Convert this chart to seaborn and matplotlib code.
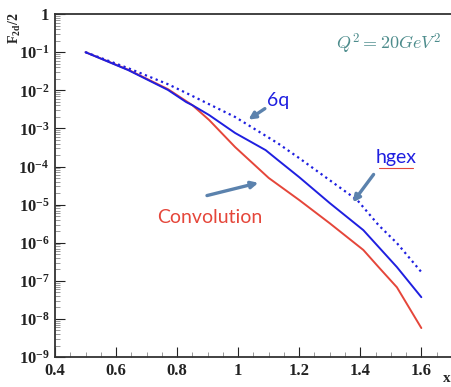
import numpy as np
import pandas as pd
import seaborn as sns
import matplotlib
matplotlib.use("Agg")
import matplotlib.pyplot as plt
from matplotlib.ticker import FixedLocator, MultipleLocator, LogLocator, NullFormatter

sns.set_style("ticks")
plt.rcParams['font.family'] = ['Liberation Serif', 'DejaVu Serif']
plt.rcParams['mathtext.fontset'] = 'custom'
plt.rcParams['mathtext.rm'] = 'Liberation Serif'
plt.rcParams['mathtext.it'] = 'Liberation Serif:italic'
plt.rcParams['mathtext.bf'] = 'Liberation Serif:bold'

# ---- data (log10 of F2d/2) ----
x_6q = [0.5, 0.64, 0.77, 0.83, 0.99, 1.13, 1.2, 1.3, 1.39, 1.46, 1.52, 1.6]
log_6q = [-1.00, -1.42, -1.84, -2.07, -2.70, -3.39, -3.78, -4.36, -4.88, -5.54, -6.01, -6.77]

x_hgex = [0.5, 0.64, 0.77, 0.83, 0.85, 0.905, 0.99, 1.09, 1.13, 1.2, 1.3, 1.41, 1.52, 1.6]
log_hgex = [-1.00, -1.47, -1.99, -2.31, -2.39, -2.65, -3.12, -3.57, -3.83, -4.28, -4.96, -5.67, -6.64, -7.43]

x_conv = [0.5, 0.64, 0.77, 0.85, 0.905, 0.99, 1.1, 1.2, 1.3, 1.41, 1.46, 1.52, 1.6]
log_conv = [-1.00, -1.46, -1.97, -2.39, -2.78, -3.49, -4.30, -4.88, -5.49, -6.19, -6.64, -7.17, -8.24]

y_exps = [-9, -8, -7, -6, -5, -4, -3, -2, -1, 0]
x_ticks = [0.4, 0.6, 0.8, 1.0, 1.2, 1.4, 1.6]
x_tick_labels = ["0.4", "0.6", "0.8", "1", "1.2", "1.4", "1.6"]

df_6q = pd.DataFrame({"x": x_6q, "y": 10.0 ** np.array(log_6q)})
df_hgex = pd.DataFrame({"x": x_hgex, "y": 10.0 ** np.array(log_hgex)})
df_conv = pd.DataFrame({"x": x_conv, "y": 10.0 ** np.array(log_conv)})

fig = plt.figure(figsize=(4.52, 3.87), dpi=100)
ax = fig.add_axes([0.1217, 0.0775, 0.878, 0.886])

red = "#e5463a"
blue = "#1f1fe0"
sns.lineplot(data=df_conv, x="x", y="y", ax=ax, color=red, lw=1.4)
sns.lineplot(data=df_hgex, x="x", y="y", ax=ax, color=blue, lw=1.4)
sns.lineplot(data=df_6q, x="x", y="y", ax=ax, color=blue, lw=1.6, linestyle=(0, (1.0, 1.6)))

ax.set_yscale("log")
ax.set_xlim(0.4, 1.7)
ax.set_ylim(1e-9, 1)
ax.set_xlabel("")
ax.set_ylabel("")

ax.yaxis.set_major_locator(FixedLocator([10.0 ** e for e in y_exps]))
ax.set_yticklabels([r"$\mathbf{10^{%d}}$" % e if e != 0 else r"$\mathbf{1}$" for e in y_exps])
ax.yaxis.set_minor_locator(LogLocator(base=10, subs=np.arange(2, 10), numticks=20))
ax.yaxis.set_minor_formatter(NullFormatter())
ax.set_xticks(x_ticks)
ax.set_xticklabels(x_tick_labels, fontweight="bold")
ax.xaxis.set_minor_locator(MultipleLocator(0.05))

ax.tick_params(axis="both", which="major", direction="in", length=7, width=0.8,
               labelsize=12, colors="#222222", top=False, right=False)
ax.tick_params(axis="both", which="minor", direction="in", length=3.5, width=0.6,
               color="#888888", top=False, right=False)
ax.tick_params(axis="y", pad=4)
ax.tick_params(axis="x", pad=4)
for s in ["left", "bottom", "top"]:
    ax.spines[s].set_linewidth(1.3)
    ax.spines[s].set_color("#333333")
ax.spines["right"].set_visible(False)

# axis labels
fig.text(0.032, 0.967, r"$\mathbf{F_{2d}/2}$", rotation=90, ha="center", va="top", fontsize=10)
fig.text(0.988, 0.005, r"$\mathbf{x}$", ha="center", va="bottom", fontsize=11)

# annotation
ax.text(0.84, 0.915, r"$Q^2 = 20GeV^2$", transform=ax.transAxes, ha="center", va="center",
        color="#4d8c8c", fontsize=13, math_fontfamily="cm")

arrow_c = "#5b82ad"
sans = ["Lato", "DejaVu Sans"]
ax.text(1.13, 10 ** -2.28, "6q", color=blue, fontsize=14, family=sans, ha="center", va="center")
ax.annotate("", xy=(1.026, 10 ** -2.81), xytext=(1.095, 10 ** -2.44),
            arrowprops=dict(arrowstyle="-|>", color=arrow_c, lw=2.4, mutation_scale=10))
ax.text(1.518, 10 ** -3.76, "hgex", color=blue, fontsize=14, family=sans, ha="center", va="center")
ax.plot([1.46, 1.574], [10 ** -4.03, 10 ** -4.03], color=red, lw=0.8)
ax.annotate("", xy=(1.37, 10 ** -5.0), xytext=(1.449, 10 ** -4.15),
            arrowprops=dict(arrowstyle="-|>", color=arrow_c, lw=2.4, mutation_scale=10))
ax.text(0.908, 10 ** -5.33, "Convolution", color=red, fontsize=14, family=sans, ha="center", va="center")
ax.annotate("", xy=(1.075, 10 ** -4.41), xytext=(0.889, 10 ** -4.78),
            arrowprops=dict(arrowstyle="-|>", color=arrow_c, lw=2.4, mutation_scale=10))

fig.savefig("out.png", dpi=100)
